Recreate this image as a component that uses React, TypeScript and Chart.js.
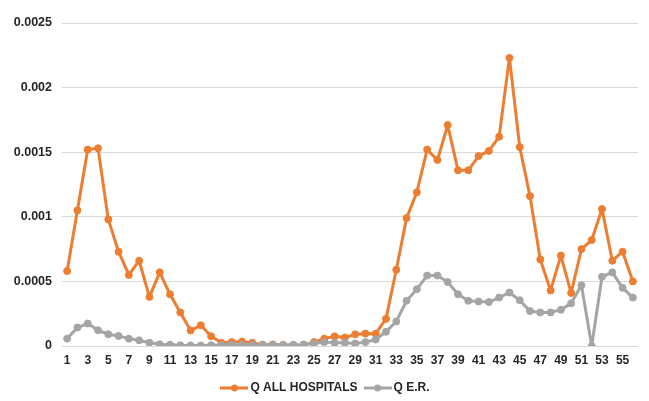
import React, { useEffect, useRef } from "react";
import { Chart, registerables } from "chart.js";

Chart.register(...registerables);

const categories: string[] = Array.from({ length: 56 }, (_, i) => String(i + 1));

const qAllHospitals: number[] = [
  0.00058, 0.00105, 0.00152, 0.00153, 0.00098, 0.00073, 0.00055, 0.00066, 0.00038, 0.00057,
  0.0004, 0.00026, 0.00012, 0.00016, 0.000075, 0.000025, 0.00003, 0.000035, 0.000025, 0.00001,
  0.000012, 0.000005, -0.000005, 0.000008, 0.00003, 0.000057, 0.000075, 0.000065, 0.00009, 0.000096,
  0.000095, 0.00021, 0.00059, 0.00099, 0.00119, 0.00152, 0.00144, 0.00171, 0.00136, 0.00136,
  0.00147, 0.00151, 0.00162, 0.00223, 0.00154, 0.00116, 0.00067, 0.00043, 0.0007, 0.00041,
  0.00075, 0.00082, 0.00106, 0.00066, 0.00073, 0.0005,
];

const qER: number[] = [
  0.000057, 0.000143, 0.000174, 0.000122, 0.000091, 0.000078, 0.000057, 0.000044, 0.000025, 0.000013,
  0.00001, 0.000006, 0.000004, 0.000004, 0.000006, 0.000008, 0.00001, 0.00001, 0.00001, 0.00001,
  0.00001, 0.00001, 0.00001, 0.000012, 0.00002, 0.00003, 0.000025, 0.000025, 0.00002, 0.00003,
  0.00005, 0.00011, 0.00019, 0.00035, 0.00044, 0.000545, 0.000545, 0.000495, 0.0004, 0.00035,
  0.000345, 0.00034, 0.000375, 0.000414, 0.000354, 0.00027, 0.00026, 0.00026, 0.00028, 0.00033,
  0.00047, 0, 0.000536, 0.00057, 0.00045, 0.000375,
];

const seriesNames: string[] = ["Q ALL HOSPITALS", "Q E.R."];
const seriesColors: string[] = ["#ED7D31", "#A5A5A5"];
const yTicks: number[] = [0, 0.0005, 0.001, 0.0015, 0.002, 0.0025];

const FONT = "'Liberation Sans', Arial, sans-serif";

function legendSwatch(color: string): HTMLCanvasElement {
  const c = document.createElement("canvas");
  c.width = 28;
  c.height = 10;
  const ctx = c.getContext("2d")!;
  ctx.strokeStyle = color;
  ctx.lineWidth = 3;
  ctx.beginPath();
  ctx.moveTo(0, 5);
  ctx.lineTo(28, 5);
  ctx.stroke();
  ctx.fillStyle = color;
  ctx.beginPath();
  ctx.arc(14, 5, 3.5, 0, Math.PI * 2);
  ctx.fill();
  return c;
}

const legendShift = {
  id: "legendShift",
  afterLayout(chart: any) {
    if (chart.legend) chart.legend.left += 16;
  },
};

export default function App() {
  const ref = useRef<HTMLCanvasElement | null>(null);

  useEffect(() => {
    if (!ref.current) return;
    const swatches = seriesColors.map(legendSwatch);
    const chart = new Chart(ref.current, {
      type: "line",
      data: {
        labels: categories,
        datasets: [
          {
            label: seriesNames[0],
            data: qAllHospitals,
            borderColor: seriesColors[0],
            backgroundColor: seriesColors[0],
            borderWidth: 3,
            borderJoinStyle: "round",
            borderCapStyle: "round",
            pointRadius: 3.5,
            pointBorderWidth: 1,
            pointBackgroundColor: seriesColors[0],
            pointBorderColor: seriesColors[0],
            tension: 0,
            order: 2,
          },
          {
            label: seriesNames[1],
            data: qER,
            borderColor: seriesColors[1],
            backgroundColor: seriesColors[1],
            borderWidth: 3,
            borderJoinStyle: "round",
            borderCapStyle: "round",
            pointRadius: 3.5,
            pointBorderWidth: 1,
            pointBackgroundColor: seriesColors[1],
            pointBorderColor: seriesColors[1],
            tension: 0,
            order: 1,
          },
        ],
      },
      plugins: [legendShift],
      options: {
        animation: false,
        responsive: true,
        maintainAspectRatio: false,
        layout: { padding: { left: 0, right: 11, top: 23, bottom: -3 } },
        plugins: {
          tooltip: { enabled: false },
          legend: {
            position: "bottom",
            labels: {
              usePointStyle: true,
              pointStyleWidth: 20,
              padding: 10,
              color: "#262626",
              font: { family: FONT, size: 12, weight: "bold" },
              generateLabels: () =>
                seriesNames.map((name, i) => ({
                  text: name,
                  fillStyle: seriesColors[i],
                  strokeStyle: seriesColors[i],
                  lineWidth: 0,
                  pointStyle: swatches[i] as any,
                  datasetIndex: i,
                  hidden: false,
                  fontColor: "#262626",
                })),
            },
          },
        },
        scales: {
          x: {
            offset: true,
            afterFit: (s: any) => {
              s.height = 26;
            },
            grid: { display: false, drawTicks: false },
            border: { display: false },
            ticks: {
              autoSkip: false,
              maxRotation: 0,
              padding: 7,
              color: "#262626",
              font: { family: FONT, size: 12, weight: "bold" },
              callback: (_v: any, i: number) => (i % 2 === 0 ? categories[i] : ""),
            },
          },
          y: {
            min: yTicks[0],
            max: yTicks[yTicks.length - 1],
            afterFit: (s: any) => {
              s.width = 62;
            },
            afterBuildTicks: (s: any) => {
              s.ticks = yTicks.map((v) => ({ value: v }));
            },
            grid: { color: "#D9D9D9", lineWidth: 1, drawTicks: false },
            border: { display: false },
            ticks: {
              padding: 10,
              color: "#262626",
              font: { family: FONT, size: 12.5, weight: "bold" },
              callback: (v: any) => String(Number(Number(v).toFixed(4))),
            },
          },
        },
      },
    });
    return () => chart.destroy();
  }, []);

  return (
    <div style={{ position: "fixed", left: 0, top: 0, width: 649, height: 401, background: "#fff" }}>
      <canvas ref={ref} />
    </div>
  );
}
